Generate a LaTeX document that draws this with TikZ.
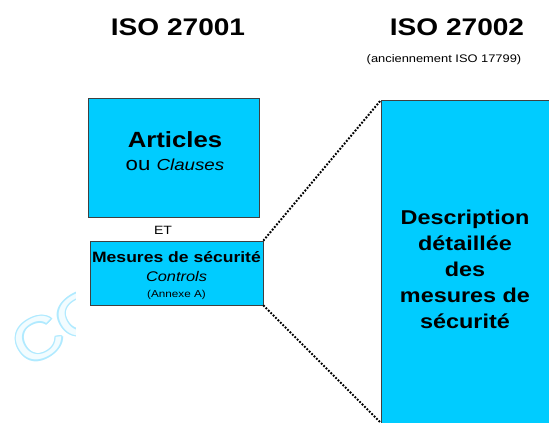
\documentclass[tikz,border=0pt]{standalone}
\usepackage{fontspec}
\usetikzlibrary{calc}
\setmainfont{Liberation Sans}[FakeStretch=1.17]
\definecolor{boxcyan}{HTML}{00CCFF}
\definecolor{markblue}{HTML}{B0EAFF}
\definecolor{markfill}{HTML}{F2FCFF}
\newcommand{\fsz}[1]{\fontsize{#1}{#1}\selectfont}
\begin{document}
\begin{tikzpicture}[x=1pt, y=-1pt,
    box/.style={draw=black!75, fill=boxcyan, line width=0.6pt, inner sep=0pt},
    line/.style={anchor=base, inner sep=0pt},
    link/.style={line width=2pt, dash pattern=on 1.8pt off 1.6pt, black},
    markstyle/.style={rotate=30, font=\fsz{58}}]
    \useasboundingbox (0,0) rectangle (549,423);
    % watermark, outlined and cut at the left
    \begin{scope}
        \clip (0,280) rectangle (75,390);
        \foreach \i in {0,45,...,315}
            \node[markstyle, text=markblue] (mark\i) at ($(61,326)+(\i:1.4pt)$) {CO};
        \node[markstyle, text=markfill] (mark) at (61,326) {CO};
    \end{scope}
    % titles
    \node[font=\bfseries\fsz{24}] (iso1) at (178,27) {ISO 27001};
    \node[font=\bfseries\fsz{24}] (iso2) at (457,27) {ISO 27002};
    \node[font=\fsz{11}] (old) at (444,60) {(anciennement ISO 17799)};
    % ISO 27001 side
    \node[box, minimum width=171pt, minimum height=119pt] (art) at (173.5,157.5) {};
    \node[line, font=\bfseries\fsz{22}] (art1) at (175,147) {Articles};
    \node[line, font=\fsz{19}] (art2) at (175,170) {ou {\fsz{16}\itshape Clauses}};
    \node[font=\fsz{12}] (et) at (163,230) {ET};
    \node[box, minimum width=173pt, minimum height=64pt] (mes) at (176.5,273) {};
    \node[line, font=\bfseries\fsz{15}] (mes1) at (176.5,262) {Mesures de sécurité};
    \node[line, font=\itshape\fsz{14}] (mes2) at (176.5,281) {Controls};
    \node[line, font=\fsz{10}] (mes3) at (176.5,297) {(Annexe A)};
    % ISO 27002 side
    \node[box, minimum width=240pt, minimum height=400pt, anchor=north west] (desc) at (381,100) {};
    \node[align=center, font=\bfseries\fsz{20}] (desctext) at (465,269)
        {Description\\[6pt] détaillée\\[6pt] des\\[6pt] mesures de\\[6pt] sécurité};
    \coordinate (descbot) at (381,423);
    % zoom lines
    \draw[link] (mes.north east) -- (desc.north west);
    \draw[link] (mes.south east) -- (descbot);
\end{tikzpicture}
\end{document}
